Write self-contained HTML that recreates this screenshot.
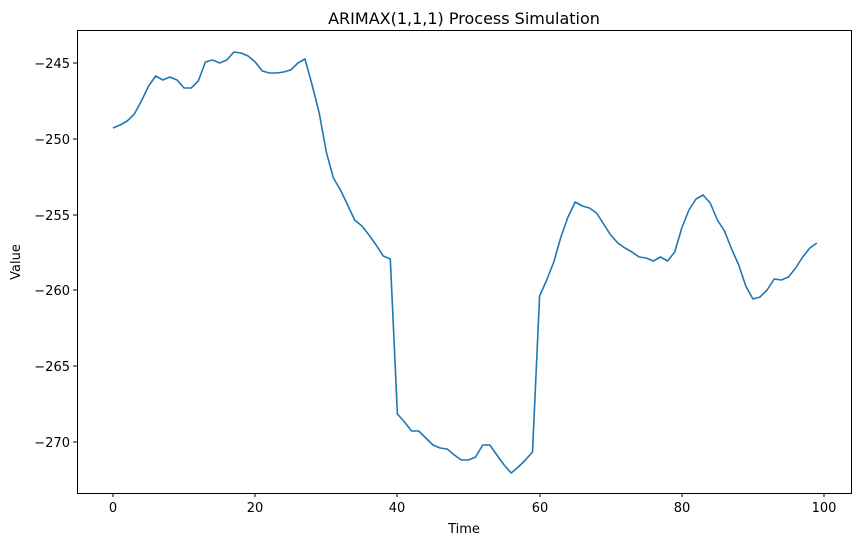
<!DOCTYPE html>
<html><head><meta charset="utf-8"><style>body{margin:0;background:#fff}svg{display:block;font-family:"DejaVu Sans","Liberation Sans",sans-serif}</style></head>
<body>
<svg width="862" height="547" viewBox="0 0 862 547" xmlns="http://www.w3.org/2000/svg">
<rect width="862" height="547" fill="#fff"/>
<text x="464" y="24" font-size="16" text-anchor="middle" fill="#000">ARIMAX(1,1,1) Process Simulation</text>
<rect x="77.5" y="30.5" width="774" height="463" fill="none" stroke="#000" stroke-width="1"/>
<g font-size="13" fill="#000" text-anchor="middle">
<line x1="113" y1="493" x2="113" y2="497" stroke="#000"/><text x="113" y="512">0</text>
<line x1="255" y1="493" x2="255" y2="497" stroke="#000"/><text x="255" y="512">20</text>
<line x1="397" y1="493" x2="397" y2="497" stroke="#000"/><text x="397" y="512">40</text>
<line x1="540" y1="493" x2="540" y2="497" stroke="#000"/><text x="540" y="512">60</text>
<line x1="682" y1="493" x2="682" y2="497" stroke="#000"/><text x="682" y="512">80</text>
<line x1="824" y1="493" x2="824" y2="497" stroke="#000"/><text x="824" y="512">100</text>
<text x="464" y="533" font-size="13">Time</text>
</g>
<g font-size="13" fill="#000" text-anchor="end">
<line x1="73" y1="63" x2="77" y2="63" stroke="#000"/><text x="70" y="68">−245</text>
<line x1="73" y1="139" x2="77" y2="139" stroke="#000"/><text x="70" y="144">−250</text>
<line x1="73" y1="215" x2="77" y2="215" stroke="#000"/><text x="70" y="220">−255</text>
<line x1="73" y1="290" x2="77" y2="290" stroke="#000"/><text x="70" y="295">−260</text>
<line x1="73" y1="366" x2="77" y2="366" stroke="#000"/><text x="70" y="371">−265</text>
<line x1="73" y1="442" x2="77" y2="442" stroke="#000"/><text x="70" y="447">−270</text>
</g>
<text x="20" y="262" font-size="13" text-anchor="middle" transform="rotate(-90 20 262)">Value</text>
<polyline id="ln" fill="none" stroke="#1f77b4" stroke-width="1.6" stroke-linejoin="round" points=""/>
<script>
var y=[128,125,121,114,101,86,76,80,77,80,88,88,81,62,60,63,60,52,53,56,62,71,73,73,72,70,63,59,85,113,152,178,190,205,220,226,235,245,256,259,414,422,431,431,438,445,448,449,455,460,460,457,445,445,455,465,473,467,460,452,296,280,262,237,217,202,206,208,213,224,235,243,248,252,257,258,261,257,261,252,228,210,199,195,203,220,231,249,265,286,299,297,290,279,280,277,268,257,248,243];
var p=y.map(function(v,i){return (113+i*7.11).toFixed(1)+","+v}).join(" ");
document.getElementById("ln").setAttribute("points",p);
</script>
</svg>
</body></html>
